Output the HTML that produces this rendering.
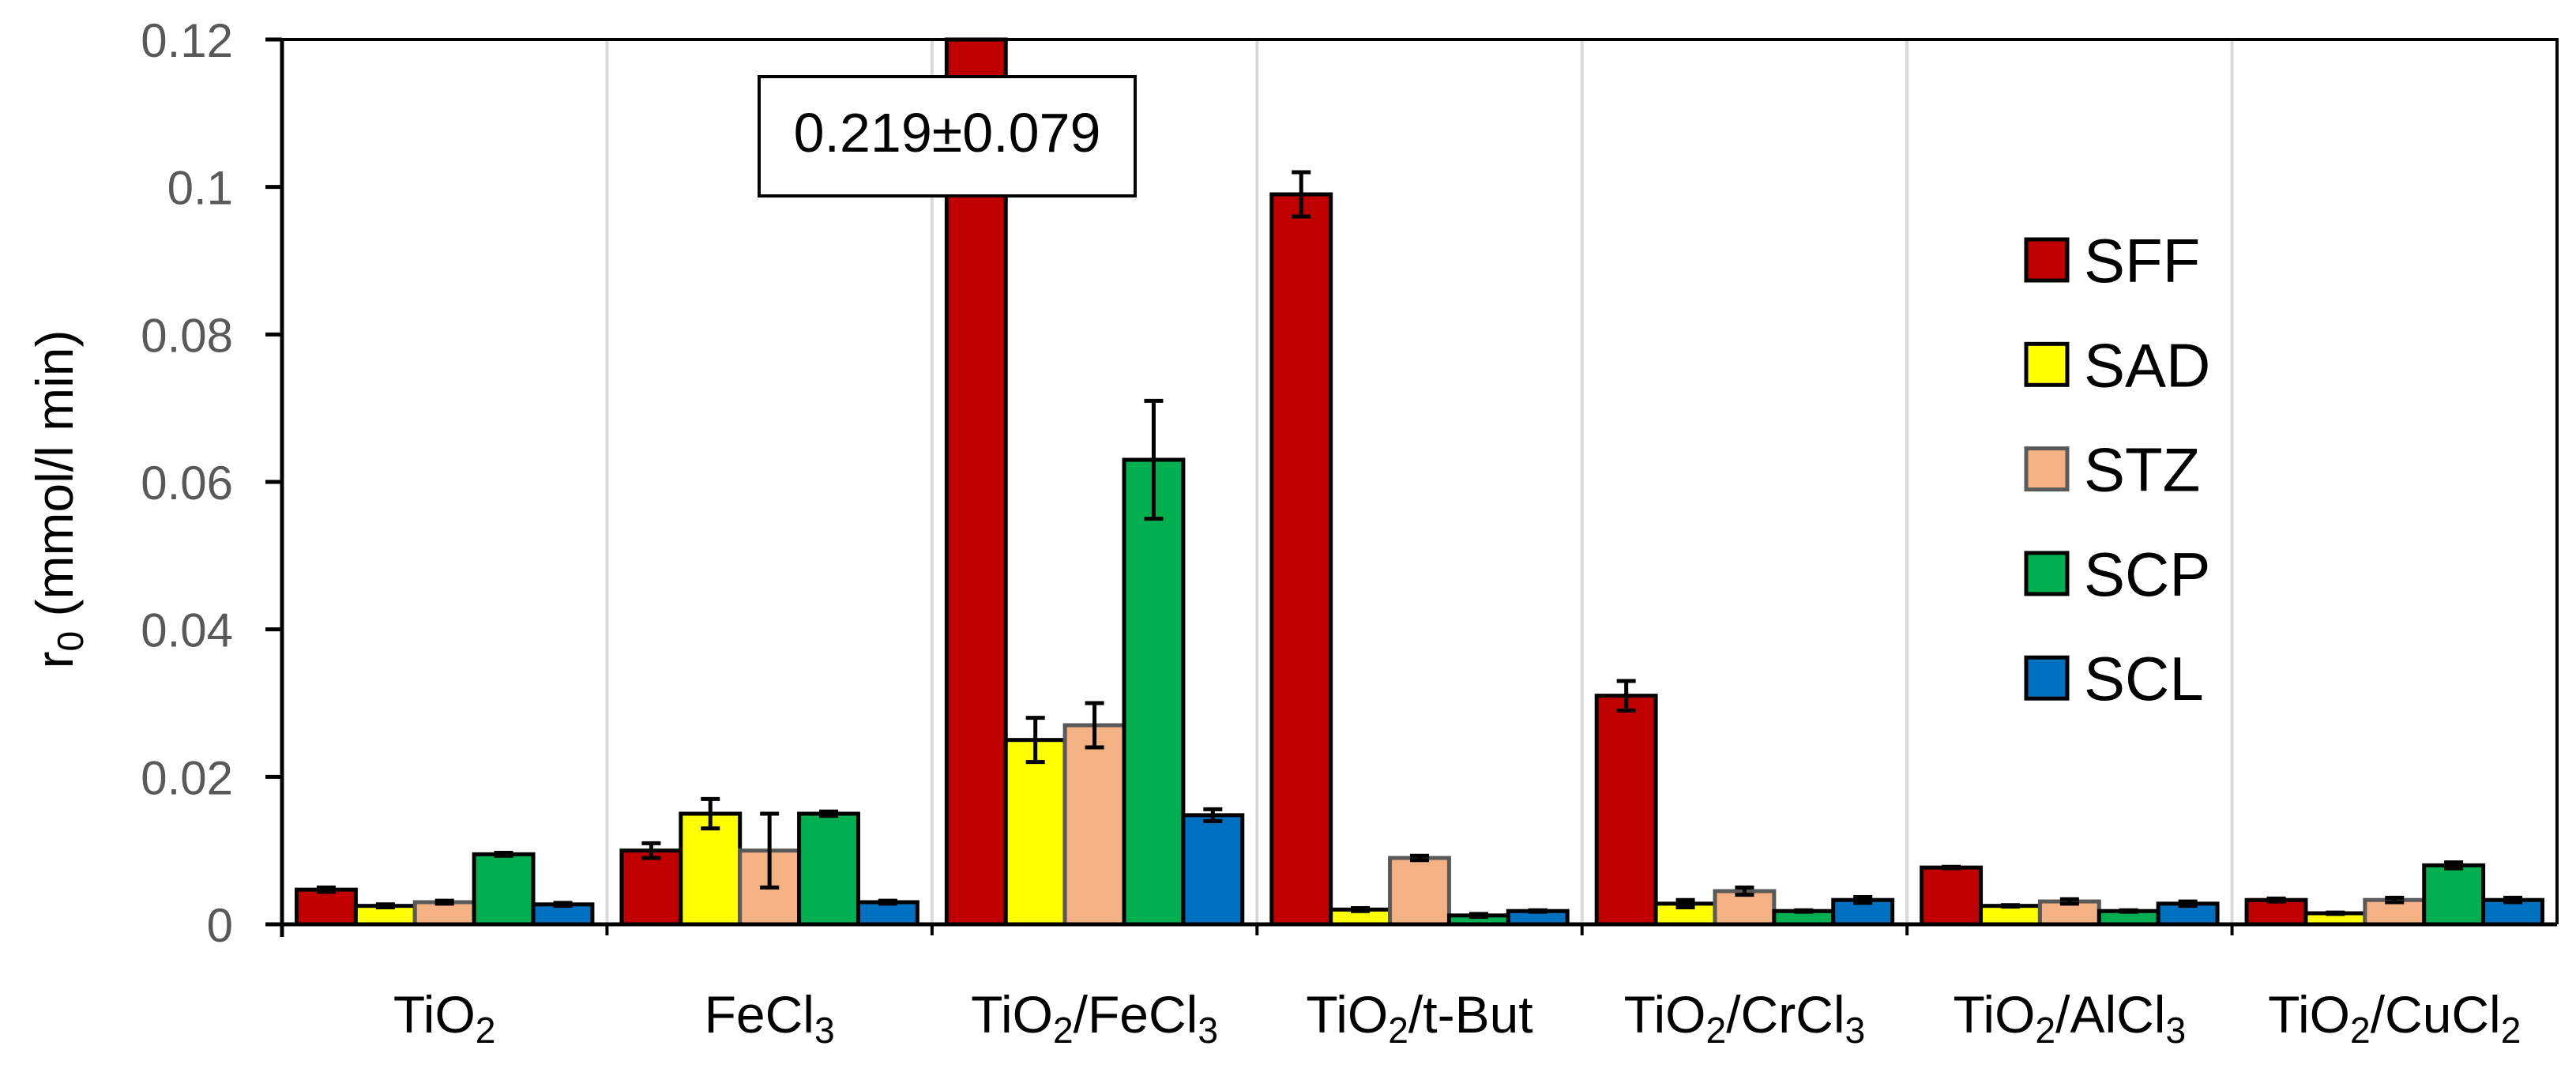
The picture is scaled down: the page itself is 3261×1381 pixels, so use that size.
<!DOCTYPE html>
<html><head><meta charset="utf-8"><style>
html,body{margin:0;padding:0;background:#fff;}
svg{display:block;font-family:"Liberation Sans",sans-serif;}
</style></head><body>
<svg id="chart" width="3261" height="1381" viewBox="0 0 3261 1381" xmlns="http://www.w3.org/2000/svg"></svg>
<script>
const categories = ["TiO|2|", "FeCl|3|", "TiO|2|/FeCl|3|", "TiO|2|/t-But", "TiO|2|/CrCl|3|", "TiO|2|/AlCl|3|", "TiO|2|/CuCl|2|"];
const seriesNames = ["SFF","SAD","STZ","SCP","SCL"];
const SFF = [0.0047, 0.010, 0.219, 0.099, 0.031, 0.0077, 0.0033];
const SAD = [0.0025, 0.015, 0.025, 0.002, 0.0028, 0.0025, 0.0015];
const STZ = [0.003, 0.010, 0.027, 0.009, 0.0045, 0.0031, 0.0033];
const SCP = [0.0095, 0.015, 0.063, 0.0012, 0.0018, 0.0018, 0.008];
const SCL = [0.0027, 0.003, 0.0148, 0.0018, 0.0033, 0.0028, 0.0033];
const SFFerr = [0.0003, 0.001, 0.079, 0.003, 0.002, 0.0001, 0.0002];
const SADerr = [0.0002, 0.002, 0.003, 0.0002, 0.0005, 0.0001, 0.0001];
const STZerr = [0.0002, 0.005, 0.003, 0.0003, 0.0005, 0.0003, 0.0003];
const SCPerr = [0.0002, 0.0003, 0.008, 0.0002, 0.0001, 0.0001, 0.0004];
const SCLerr = [0.0002, 0.0002, 0.0008, 0.0001, 0.0004, 0.0003, 0.0003];
const yTicks = ["0","0.02","0.04","0.06","0.08","0.1","0.12"];
const annotation = "0.219±0.079";

const series=[SFF,SAD,STZ,SCP,SCL], errs=[SFFerr,SADerr,STZerr,SCPerr,SCLerr];
const fills=["#c00000","#ffff00","#f4b183","#00b050","#0070c0"];
const strokes=["#000","#000","#595959","#000","#000"];
const L=357,R=3237,T=50,B=1170,ymax=0.12;
const gw=(R-L)/categories.length, bw=gw*0.91/5, off=(gw-5*bw)/2;
const y=v=>B-(Math.min(v,ymax)/ymax)*(B-T);
const xg=i=>L+i*gw;
const svg=document.getElementById('chart');
const NS="http://www.w3.org/2000/svg";
function mk(t,a,p){const e=document.createElementNS(NS,t);for(const k in a)e.setAttribute(k,a[k]);(p||svg).appendChild(e);return e;}
function sub(txt,el){const parts=txt.split('|');parts.forEach((p,i)=>{if(!p)return;const ts=document.createElementNS(NS,'tspan');if(i%2==1){ts.setAttribute('baseline-shift','-28%');ts.setAttribute('font-size','70%');}ts.textContent=p;el.appendChild(ts);});}
for(let i=1;i<categories.length;i++){const g=mk('line',{x1:xg(i),x2:xg(i),y1:T,y2:B,stroke:'#d9d9d9','stroke-width':4});

}
categories.forEach((c,i)=>{series.forEach((s,k)=>{const x=xg(i)+off+k*bw;const r=mk('rect',{x:x,y:y(s[i]),width:bw,height:B-y(s[i]),fill:fills[k],stroke:strokes[k],'stroke-width':5});


if(s[i]<=ymax){const cx=x+bw/2,y1=y(s[i]+errs[k][i]),y2=y(s[i]-errs[k][i]);const g=mk('path',{d:`M${cx},${y1}V${y2}M${cx-12},${y1}H${cx+12}M${cx-12},${y2}H${cx+12}`,stroke:'#000','stroke-width':5,fill:'none'});

}});
const t=mk('text',{x:xg(i)+gw/2,y:1307,'text-anchor':'middle','font-size':66,fill:'#000'});sub(c,t);

});
const fr=mk('path',{d:`M${L},${T}H${R}V${B}`,stroke:'#000','stroke-width':4,fill:'none'});


const ya=mk('line',{x1:L,x2:L,y1:T-2,y2:B+16,stroke:'#000','stroke-width':5});


const xa=mk('line',{x1:L-21,x2:R,y1:B,y2:B,stroke:'#000','stroke-width':5});


for(let i=1;i<categories.length;i++){const tk=mk('line',{x1:xg(i),x2:xg(i),y1:B,y2:B+14,stroke:'#000','stroke-width':4});

}
yTicks.forEach((lab,i)=>{const v=i*0.02,yy=y(v);const tk=mk('line',{x1:L-21,x2:L,y1:yy,y2:yy,stroke:'#000','stroke-width':5});


const t=mk('text',{x:295,y:yy+22,'text-anchor':'end','font-size':60,fill:'#595959'});t.textContent=lab;

});
const yt=mk('text',{transform:'translate(92,632) rotate(-90)','text-anchor':'middle','font-size':66,fill:'#000'});sub('r|0| (mmol/l min)',yt);


const ab=mk('rect',{x:961,y:97,width:476,height:151,fill:'#fff',stroke:'#000','stroke-width':4});


const at=mk('text',{x:1199,y:192,'text-anchor':'middle','font-size':70,fill:'#000'});at.textContent=annotation;


seriesNames.forEach((n,k)=>{const cy=329+k*132.3;const r=mk('rect',{x:2565,y:cy-26,width:52,height:52,fill:fills[k],stroke:strokes[k],'stroke-width':5});


const t=mk('text',{x:2638,y:cy+28,'font-size':78,fill:'#000'});t.textContent=n;

});
</script>
</body></html>
